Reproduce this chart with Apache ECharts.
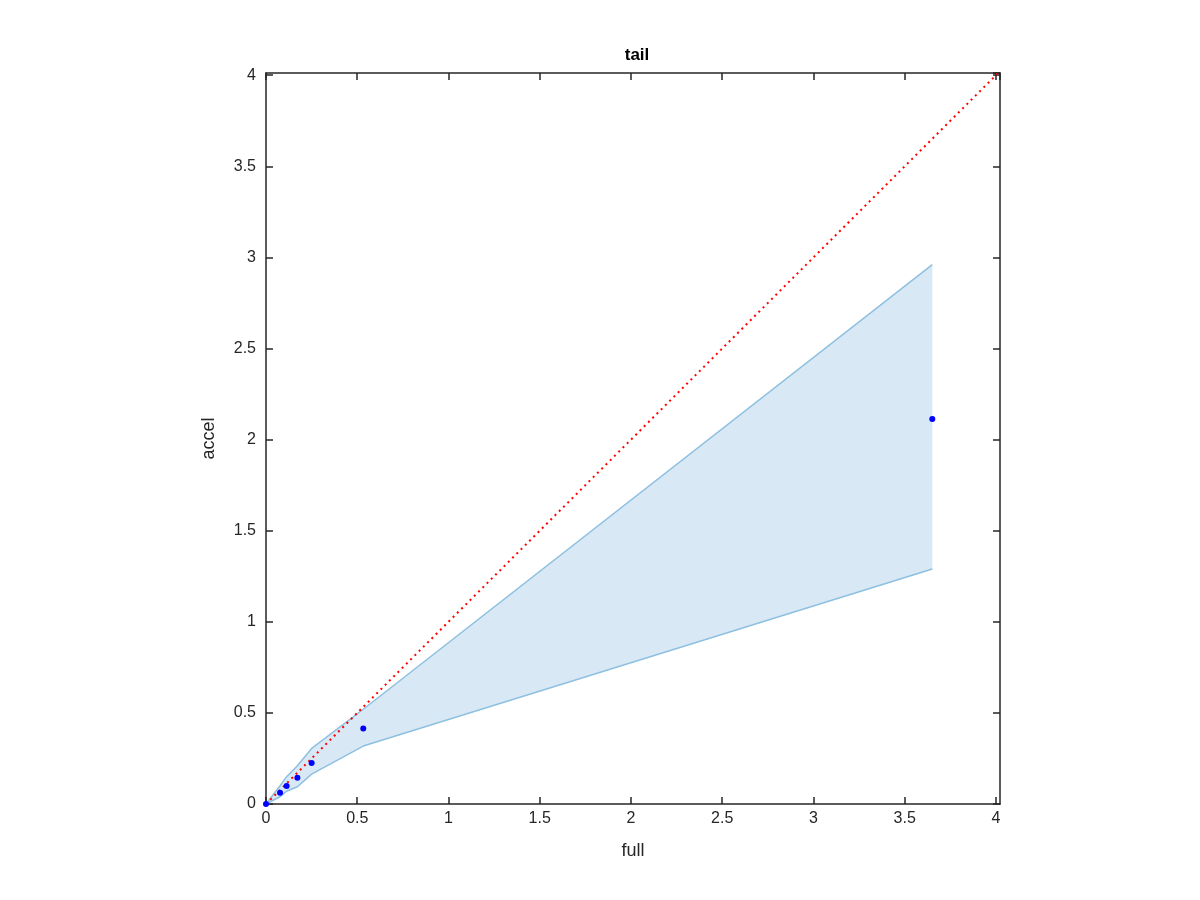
<!DOCTYPE html>
<html>
<head>
<meta charset="utf-8">
<script src="https://cdn.jsdelivr.net/npm/echarts@6/dist/echarts.min.js"></script>
<style>html,body{margin:0;padding:0;background:#fff;}#c{width:1200px;height:900px;}</style>
</head>
<body>
<div id="c"></div>
<script>
// Data
var fullVals  = [0, 0.077, 0.113, 0.172, 0.25, 0.533, 3.651];
var accelVals = [0, 0.062, 0.099, 0.144, 0.225, 0.415, 2.113];
var upperVals = [0, 0.10, 0.15, 0.21, 0.305, 0.52, 2.96];
var lowerVals = [0, 0.04, 0.07, 0.095, 0.164, 0.318, 1.29];
var identityX = [0, 4.022];
var axisMax = 4.022;
var yAxisMax = 4.012;
var tickStep = 0.5;

var pts = fullVals.map(function (x, i) { return [x, accelVals[i]]; });
var upperPts = fullVals.map(function (x, i) { return [x, upperVals[i]]; });
var lowerPts = fullVals.map(function (x, i) { return [x, lowerVals[i]]; });
var idPts = identityX.map(function (v) { return [v, v]; });

var font = 'Liberation Sans, Arial, Helvetica, sans-serif';
var ink = '#262626';

function fmt(v) {
  var r = Math.round(v / tickStep) * tickStep;
  if (Math.abs(r - v) > 1e-6) return '';
  return String(+r.toFixed(2));
}

var baseAxis = {
  type: 'value', min: 0, interval: tickStep,
  axisLine: { show: true, onZero: false, lineStyle: { color: ink, width: 1.5 } },
  axisTick: { show: true, inside: true, length: 7, lineStyle: { color: ink, width: 1.5 } },
  splitLine: { show: false },
  axisLabel: { show: true, color: ink, fontFamily: font, fontSize: 16, margin: 7, formatter: fmt, showMaxLabel: false }
};
function ax(extra) { return Object.assign(JSON.parse(JSON.stringify(baseAxis)), { axisLabel: Object.assign({}, baseAxis.axisLabel) }, extra); }

var chart = echarts.init(document.getElementById('c'), null, { renderer: 'canvas' });
chart.setOption({
  animation: false,
  backgroundColor: '#ffffff',
  title: {
    text: 'tail', left: 632, top: 42, textAlign: 'center',
    textStyle: { fontFamily: font, fontSize: 17, fontWeight: 'bold', color: '#000' }
  },
  grid: { left: 266, right: 200, top: 73, bottom: 96, containLabel: false },
  xAxis: [
    ax({ max: axisMax, position: 'bottom', name: 'full', nameLocation: 'middle', nameGap: 38,
      nameTextStyle: { fontFamily: font, fontSize: 18, color: ink } }),
    ax({ max: axisMax, position: 'top', axisLabel: { show: false } })
  ],
  yAxis: [
    ax({ max: yAxisMax, position: 'left', name: 'accel', nameLocation: 'middle', nameGap: 48,
      nameTextStyle: { fontFamily: font, fontSize: 18, color: ink },
      axisLabel: { show: true, color: ink, fontFamily: font, fontSize: 16, margin: 10, formatter: fmt, showMaxLabel: false } }),
    ax({ max: yAxisMax, position: 'right', axisLabel: { show: false } })
  ],
  series: [
    {
      type: 'custom',
      xAxisIndex: 0, yAxisIndex: 0,
      data: [[0, 0]],
      silent: true,
      z: 1,
      renderItem: function (params, api) {
        var poly = [];
        for (var i = 0; i < upperPts.length; i++) poly.push(api.coord(upperPts[i]));
        for (var j = lowerPts.length - 1; j >= 0; j--) poly.push(api.coord(lowerPts[j]));
        return { type: 'polygon', shape: { points: poly }, style: { fill: '#d9e8f5', stroke: null } };
      }
    },
    {
      type: 'line', data: upperPts, showSymbol: false, symbol: 'none', z: 2,
      lineStyle: { color: '#8dc0e0', width: 1.5 }
    },
    {
      type: 'line', data: lowerPts, showSymbol: false, symbol: 'none', z: 2,
      lineStyle: { color: '#8dc0e0', width: 1.5 }
    },
    {
      type: 'line', data: idPts, showSymbol: false, symbol: 'none', z: 3,
      lineStyle: { color: '#ff0000', width: 2, type: [2, 4] }
    },
    {
      type: 'scatter', data: pts, symbol: 'circle', symbolSize: 6, z: 4,
      itemStyle: { color: '#0000ff', opacity: 1 }
    }
  ]
});
</script>
</body>
</html>
